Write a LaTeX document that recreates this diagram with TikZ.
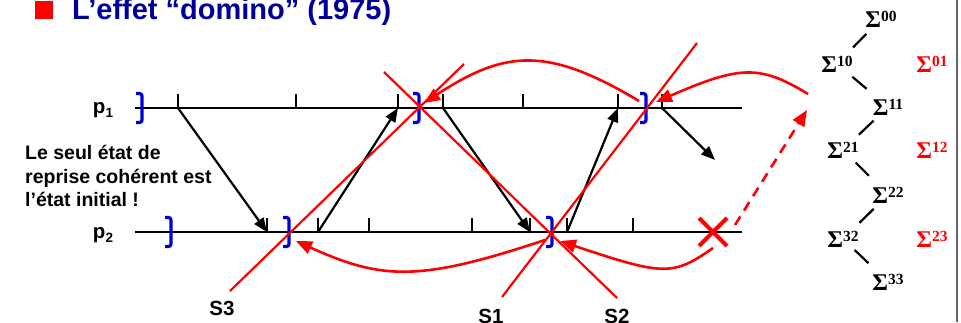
\documentclass[tikz,border=0pt]{standalone}
\usepackage{fontspec}
\setmainfont{Liberation Sans}
\newfontfamily\serifgr{Liberation Serif}
\usetikzlibrary{arrows.meta}
\definecolor{navy}{RGB}{0,0,153}
\definecolor{bblue}{RGB}{0,0,210}
\definecolor{rred}{RGB}{255,0,0}
\newcommand\sigm[1]{{\serifgr\bfseries\fontsize{24}{24}\selectfont Σ}\raisebox{6pt}{\serifgr\bfseries\fontsize{15.5}{15.5}\selectfont #1}}
\newcommand\psub[2]{#1\raisebox{-4pt}{\fontsize{13.5}{13.5}\selectfont #2}}
\begin{document}
\begin{tikzpicture}[x=1pt,y=-1pt,
  tl/.style={line width=2.5pt,black},
  tickmark/.style={line width=2.3pt,black},
  msg/.style={line width=2.2pt,black,-{Triangle[length=14pt,width=11pt]}},
  cut/.style={rred,line width=2.2pt},
  back/.style={rred,line width=2.6pt,-{Triangle[length=16pt,width=13pt]}},
  brk/.style={bblue,line width=3.2pt,rounded corners=2.5pt},
  xmk/.style={rred,line width=4pt},
  lbl/.style={font=\fontsize{19.5}{23.5}\selectfont\bfseries,inner sep=0pt},
  slbl/.style={font=\fontsize{20.5}{20.5}\selectfont\bfseries,inner sep=0pt},
  sig/.style={inner sep=0pt,anchor=base},
  tree/.style={line width=2.2pt,black}]
\useasboundingbox (0,0) rectangle (961,322);
% title
\node[fill=rred,minimum size=18pt,inner sep=0pt] (bullet) at (44,10) {};
\node[anchor=base west,inner sep=0pt,text=navy,font=\fontsize{29}{29}\selectfont\bfseries] (title) at (72,19.5) {L’effet “domino” (1975)};
% right border
\coordinate (g1) at (957,0); \coordinate (g2) at (957,322);
\draw[gray!80!black,line width=1.5pt] (g1) -- (g2);
% process labels
\node[lbl,anchor=base,font=\fontsize{20.5}{20.5}\selectfont\bfseries] (lp1) at (103,113.5) {\psub{p}{1}};
\node[lbl,anchor=base,font=\fontsize{20.5}{20.5}\selectfont\bfseries] (lp2) at (103,238.5) {\psub{p}{2}};
\node[lbl,anchor=north west,align=left] (note) at (25,145) {Le seul état de\\reprise cohérent est\\l’état initial !};
% timelines
\coordinate (p1s) at (135,108); \coordinate (p1e) at (742,108);
\coordinate (p2s) at (135,232); \coordinate (p2e) at (742,232);
\draw[tl] (p1s) -- (p1e);
\draw[tl] (p2s) -- (p2e);
\foreach \n/\x in {a1/178,a2/296,a3/398,a4/443,a5/523,a6/618,a7/662}{
  \coordinate (\n) at (\x,108);
  \draw[tickmark] (\n) -- ++(0,-14);}
\foreach \n/\x in {b1/267,b2/318,b3/369,b4/472,b5/530,b6/567,b7/633}{
  \coordinate (\n) at (\x,232);
  \draw[tickmark] (\n) -- ++(0,-14);}
% messages
\coordinate (m7) at (715,160);
\draw[msg] (a1) -- (b1);
\draw[msg] (b2) -- (a3);
\draw[msg] (a4) -- (b5);
\draw[msg] (b6) -- (a6);
\draw[msg] (a7) -- (m7);
% checkpoints
\foreach \n/\x/\y in {k1/142/108,k2/171/232,k3/289/232,k4/419/108,k5/646/108,k6/552/232}{
  \coordinate (\n) at (\x,\y);
  \draw[brk] (\n) ++(-6,-14.5) -- ++(6,0) -- ++(0,29) -- ++(-6,0);}
% cut lines
\coordinate (s3b) at (230,291); \coordinate (s3t) at (464,64);
\coordinate (s2b) at (617,298); \coordinate (s2t) at (384,72);
\coordinate (s1b) at (502,297); \coordinate (s1t) at (697,43);
\draw[cut] (s3b) -- (s3t);
\draw[cut] (s2b) -- (s2t);
\draw[cut] (s1b) -- (s1t);
\node[slbl] (S3) at (222,308) {S3};
\node[slbl] (S1) at (491,316) {S1};
\node[slbl] (S2) at (617,316) {S2};
% failure
\coordinate (fx) at (713,232);
\draw[xmk] (fx) ++(-14,-14) -- ++(28,28);
\draw[xmk] (fx) ++(-14,14) -- ++(28,-28);
% rollback arrows
\coordinate (c1s) at (639,101); \coordinate (c1e) at (424,103);
\coordinate (c2s) at (808,94);  \coordinate (c2e) at (656,102);
\coordinate (c4s) at (713,248); \coordinate (c4e) at (560,241);
\coordinate (c5s) at (545,240); \coordinate (c5e) at (296,241);
\coordinate (ds) at (735,225);  \coordinate (de) at (807,110);
\draw[back] (c1s) .. controls (547,46) and (505,50) .. (c1e);
\draw[back] (c2s) .. controls (759,64) and (739,66) .. (c2e);
\draw[back] (c4s) .. controls (673,276) and (664,276) .. (c4e);
\draw[back] (c5s) .. controls (419,282) and (382,280) .. (c5e);
\draw[back,dash pattern=on 10pt off 7pt] (ds) -- (de);
% lattice
\node[sig] (s00) at (881,27) {\sigm{00}};
\node[sig] (s10) at (837,72) {\sigm{10}};
\node[sig,text=rred] (s01) at (932,72) {\sigm{01}};
\node[sig] (s11) at (888,115) {\sigm{11}};
\node[sig] (s21) at (843,158) {\sigm{21}};
\node[sig,text=rred] (s12) at (932,158) {\sigm{12}};
\node[sig] (s22) at (888,203) {\sigm{22}};
\node[sig] (s32) at (843,247) {\sigm{32}};
\node[sig,text=rred] (s23) at (932,247) {\sigm{23}};
\node[sig] (s33) at (888,290) {\sigm{33}};
\draw[tree,shorten <=21pt,shorten >=23pt] (s00.center) -- (s10.center);
\draw[tree,shorten <=20pt,shorten >=28pt] (s10.center) -- (s11.center);
\draw[tree,shorten <=20pt,shorten >=22pt] (s11.center) -- (s21.center);
\draw[tree,shorten <=18pt,shorten >=27pt] (s21.center) -- (s22.center);
\draw[tree,shorten <=20pt,shorten >=23pt] (s22.center) -- (s32.center);
\draw[tree,shorten <=16pt,shorten >=27pt] (s32.center) -- (s33.center);
\end{tikzpicture}
\end{document}
